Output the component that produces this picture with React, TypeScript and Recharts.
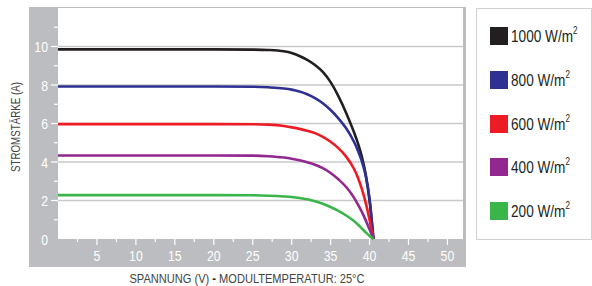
import { CartesianGrid, Line, LineChart, XAxis, YAxis } from "recharts";

const FONT = "'Liberation Sans', Arial, sans-serif";
const NARROW = 0.82;

// Spannung (V)
const voltage = [0, 5, 10, 15, 20, 25, 27, 29, 30, 31, 32, 33, 34, 35, 36, 37, 38, 38.5, 39, 39.5, 40, 40.5];

// Stromstärke (A) per irradiance
const current1000 = [9.85, 9.85, 9.85, 9.85, 9.85, 9.84, 9.82, 9.75, 9.66, 9.51, 9.31, 9.04, 8.68, 8.15, 7.42, 6.55, 5.55, 4.98, 4.3, 3.38, 2.0, 0];
const current800 = [7.92, 7.92, 7.92, 7.92, 7.92, 7.91, 7.88, 7.82, 7.76, 7.66, 7.52, 7.32, 7.05, 6.7, 6.27, 5.75, 5.05, 4.6, 4.05, 3.3, 2.1, 0];
const current600 = [5.97, 5.97, 5.97, 5.97, 5.97, 5.96, 5.94, 5.87, 5.8, 5.72, 5.62, 5.5, 5.3, 5.05, 4.72, 4.28, 3.65, 3.2, 2.62, 1.9, 1.0, 0];
const current400 = [4.34, 4.34, 4.34, 4.34, 4.34, 4.33, 4.3, 4.23, 4.17, 4.09, 3.99, 3.86, 3.68, 3.43, 3.1, 2.7, 2.15, 1.8, 1.42, 0.98, 0.5, 0];
const current200 = [2.28, 2.28, 2.28, 2.28, 2.28, 2.27, 2.25, 2.21, 2.18, 2.13, 2.06, 1.96, 1.83, 1.66, 1.46, 1.22, 0.93, 0.75, 0.55, 0.35, 0.16, 0];

const xTicks = [2.5, 5, 7.5, 10, 12.5, 15, 17.5, 20, 22.5, 25, 27.5, 30, 32.5, 35, 37.5, 40, 42.5, 45, 47.5, 50];
const yTicks = [0, 1, 2, 3, 4, 5, 6, 7, 8, 9, 10, 11];
const gridValues = [2, 4, 6, 8, 10];

const SERIES = [
  { key: "s1000", label: "1000", color: "#231f20", values: current1000 },
  { key: "s800", label: "800", color: "#2e3192", values: current800 },
  { key: "s600", label: "600", color: "#ed1c24", values: current600 },
  { key: "s400", label: "400", color: "#92278f", values: current400 },
  { key: "s200", label: "200", color: "#39b54a", values: current200 },
];

const data = voltage.map((v, i) => {
  const row: Record<string, number> = { v };
  SERIES.forEach((s) => {
    row[s.key] = s.values[i];
  });
  return row;
});

function XTick({ x, y, payload }: any) {
  const major = payload.value % 5 === 0;
  return (
    <g>
      <line x1={x} x2={x} y1={y} y2={y + (major ? 6 : 3)} stroke="#fff" strokeWidth={1.2} />
      {major && (
        <text
          transform={`translate(${x},${y + 22}) scale(${NARROW},1)`}
          textAnchor="middle"
          fill="#fff"
          fontSize={15}
          fontFamily={FONT}
        >
          {payload.value}
        </text>
      )}
    </g>
  );
}

function YTick({ x, y, payload }: any) {
  const major = payload.value % 2 === 0;
  return (
    <g>
      {payload.value > 0 && (
        <line x1={x - (major ? 7 : 4)} x2={x} y1={y} y2={y} stroke="#fff" strokeWidth={1.2} />
      )}
      {major && (
        <text
          transform={`translate(${x - 10},${y + 5.5}) scale(${NARROW},1)`}
          textAnchor="end"
          fill="#fff"
          fontSize={15}
          fontFamily={FONT}
        >
          {payload.value}
        </text>
      )}
    </g>
  );
}

export default function App() {
  return (
    <div
      style={{
        position: "absolute",
        left: 0,
        top: 0,
        width: 592,
        height: 286,
        background: "#fff",
        fontFamily: FONT,
      }}
    >
      <div
        style={{
          position: "absolute",
          left: 29,
          top: 7,
          width: 437,
          height: 260,
          background: "#bcbdc0",
        }}
      />
      <div style={{ position: "absolute", left: 0, top: 0 }}>
        <LineChart width={592} height={286} data={data} margin={{ top: 8, right: 129, bottom: 19, left: 0 }}>
          <CartesianGrid
            vertical={false}
            horizontalValues={gridValues}
            stroke="#c8c9cb"
            strokeWidth={1.5}
            fill="#fff"
            fillOpacity={1}
          />
          <XAxis
            type="number"
            dataKey="v"
            domain={[0, 52]}
            ticks={xTicks}
            interval={0}
            height={28}
            axisLine={false}
            tickLine={false}
            tickSize={0}
            tickMargin={0}
            tick={<XTick />}
          />
          <YAxis
            type="number"
            domain={[0, 12]}
            ticks={yTicks}
            interval={0}
            width={58}
            axisLine={false}
            tickLine={false}
            tickSize={0}
            tickMargin={0}
            tick={<YTick />}
          />
          {SERIES.map((s) => (
            <Line
              key={s.key}
              type="monotone"
              dataKey={s.key}
              stroke={s.color}
              strokeWidth={2.6}
              dot={false}
              activeDot={false}
              isAnimationActive={false}
            />
          ))}
        </LineChart>
      </div>
      <div
        style={{
          position: "absolute",
          left: 16,
          top: 127,
          transform: "translate(-50%, -50%) rotate(-90deg) scaleX(0.78)",
          whiteSpace: "nowrap",
          fontSize: 12.5,
          lineHeight: "14px",
          color: "#444",
        }}
      >
        STROMSTÄRKE (A)
      </div>
      <div
        style={{
          position: "absolute",
          left: 247,
          top: 271,
          transform: `translateX(-50%) scaleX(${NARROW})`,
          whiteSpace: "nowrap",
          fontSize: 13.5,
          lineHeight: "15px",
          color: "#444",
        }}
      >
        SPANNUNG (V) <b style={{ color: "#222" }}>-</b> MODULTEMPERATUR: 25°C
      </div>
      <div
        style={{
          position: "absolute",
          left: 476,
          top: 8,
          width: 114,
          height: 230,
          border: "1px solid #cfd0d2",
        }}
      >
        {SERIES.map((s, i) => (
          <div
            key={s.key}
            style={{
              position: "absolute",
              left: 13,
              top: 16 + i * 43.75,
              display: "flex",
              alignItems: "center",
              fontSize: 17,
              color: "#231f20",
            }}
          >
            <span style={{ width: 18, height: 18, background: s.color, marginRight: 3, flexShrink: 0 }} />
            <span style={{ display: "inline-block", transform: "scaleX(0.8)", transformOrigin: "left center", whiteSpace: "nowrap" }}>
              {s.label} W/m<sup style={{ fontSize: 10, verticalAlign: "8px" }}>2</sup>
            </span>
          </div>
        ))}
      </div>
    </div>
  );
}
